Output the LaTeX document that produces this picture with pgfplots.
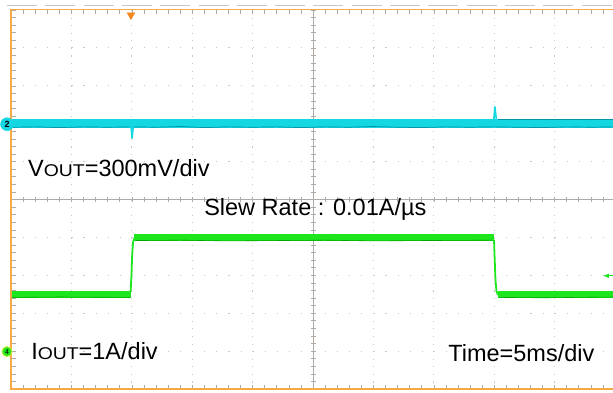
\documentclass[border=0pt]{standalone}
\usepackage{pgfplots}
\pgfplotsset{compat=1.18}
\usepackage{graphicx}
\usepackage{fontspec}
\setmainfont{Liberation Sans}
\definecolor{scopeorange}{RGB}{245,170,70}
\definecolor{trigorange}{RGB}{245,135,30}
\definecolor{tracecyan}{RGB}{20,215,225}
\definecolor{darkcyan}{RGB}{0,150,165}
\definecolor{tracegreen}{RGB}{30,230,30}
\definecolor{darkgreen}{RGB}{0,165,0}
\definecolor{griddot}{RGB}{200,200,200}
\definecolor{gridtick}{RGB}{175,170,165}
\begin{document}
\begin{tikzpicture}[x=1pt,y=1pt]
\path[use as bounding box] (0,0) rectangle (613,392);
\clip (0,0) rectangle (613,392);
% frame dashes above the screen
\foreach \i in {0,...,15} {\draw[griddot, line width=1pt] ({7+38.3*\i},386.5) -- ({37+38.3*\i},386.5);}
% dotted grid
\foreach \k in {1,2,3,4,6,7,8,9} {\draw[griddot, line width=1.1pt, dash pattern=on 1.1pt off 6.48pt] ({11+60.4*\k},382) -- ({11+60.4*\k},3);}
\foreach \j in {1,2,3,4,6,7,8,9} {\draw[griddot, line width=1.1pt, dash pattern=on 1.1pt off 10.98pt] (11,{382-37.9*\j}) -- (613,{382-37.9*\j});}
% centre lines with ticks
\draw[gridtick, line width=0.5pt] (313.2,382) -- (313.2,3);
\draw[gridtick, line width=0.5pt] (11,192.5) -- (613,192.5);
\foreach \i in {0,...,50} {\draw[gridtick, line width=0.6pt] ({11+12.08*\i},190) -- ({11+12.08*\i},195);}
\foreach \i in {0,...,50} {\draw[gridtick, line width=0.6pt] (310.5,{382-7.58*\i}) -- (316,{382-7.58*\i});}
% border ticks
\foreach \i in {0,...,50} {\draw[gridtick, line width=0.6pt] (11,{382-7.58*\i}) -- (15.5,{382-7.58*\i});}
\foreach \i in {0,...,50} {\draw[gridtick, line width=0.6pt] ({11+12.08*\i},382) -- ({11+12.08*\i},378);}
\foreach \i in {0,...,50} {\draw[gridtick, line width=0.6pt] ({11+12.08*\i},3) -- ({11+12.08*\i},7);}
% orange border
\draw[scopeorange, line width=1.6pt] (11,382.5) -- (613,382.5);
\draw[scopeorange, line width=1.8pt] (11,3) -- (613,3);
\draw[scopeorange, line width=2pt] (11,2.2) -- (11,383.3);
\begin{axis}[at={(0,0)}, anchor=south west, scale only axis,
  width=613pt, height=392pt,
  xmin=-0.9106, xmax=49.83, ymin=-5.066, ymax=5.277,
  axis line style={draw=none}, ticks=none, clip=true]
% VOUT trace (div)
\addplot[tracecyan, line width=9pt] coordinates {(0.05,2.02) (49.9,2.02)};
\addplot[darkcyan, line width=0.7pt] coordinates {
(0.1,1.92)(2,1.93)(4,1.91)(6,1.93)(8,1.92)(9.9,1.93)(12,1.92)(14,1.94)(16,1.91)(18,1.93)(20,1.92)
(22,1.93)(24,1.91)(26,1.93)(28,1.92)(30,1.94)(32,1.92)(34,1.91)(36,1.93)(38,1.92)(39.9,1.93)
(42,1.92)(44,1.91)(46,1.93)(48,1.92)(49.9,1.93)};
\addplot[darkcyan, line width=0.7pt] coordinates {(40.3,2.12)(44,2.12)(49.9,2.12)};
\addplot[tracecyan, line width=1.6pt] coordinates {(9.93,2.0)(10.02,1.62)(10.14,2.0)};
\addplot[tracecyan, line width=1.6pt] coordinates {(39.95,2.05)(40.05,2.47)(40.2,2.05)};
% IOUT trace (div)
\addplot[tracegreen, line width=7pt] coordinates {(0.05,-2.5)(9.93,-2.5)};
\addplot[tracegreen, line width=7pt] coordinates {(10.22,-1.0)(39.98,-1.0)};
\addplot[tracegreen, line width=7pt] coordinates {(40.3,-2.5)(49.9,-2.5)};
\addplot[tracegreen, line width=1.8pt] coordinates {(9.9,-2.42)(9.97,-2.0)(10.03,-1.45)(10.1,-1.12)(10.22,-1.0)};
\addplot[tracegreen, line width=1.8pt] coordinates {(39.98,-1.05)(40.03,-1.5)(40.1,-2.1)(40.18,-2.4)(40.3,-2.5)};
\addplot[darkgreen, line width=0.6pt] coordinates {(10.3,-1.07)(14,-1.06)(18,-1.08)(22,-1.07)(26,-1.06)(30,-1.08)(34,-1.07)(39.9,-1.06)};
\addplot[darkgreen, line width=0.6pt] coordinates {(0.1,-2.57)(4,-2.56)(9.9,-2.57)};
\addplot[darkgreen, line width=0.6pt] coordinates {(40.4,-2.57)(44,-2.58)(49.9,-2.56)};
% channel and trigger markers
\addplot[only marks, mark=*, mark size=6.5pt, tracecyan, mark options={draw=tracecyan}] coordinates {(-0.33,2.0)};
\addplot[only marks, black!80, mark=text, text mark={\fontsize{9}{9}\selectfont\bfseries 2}] coordinates {(-0.33,2.0)};
\addplot[only marks, mark=*, mark size=5pt, tracegreen, mark options={draw={rgb,255:red,190;green,240;blue,60}, line width=1pt}] coordinates {(-0.33,-4.0)};
\addplot[only marks, black!80, mark=text, text mark={\fontsize{7}{7}\selectfont 4}] coordinates {(-0.33,-4.0)};
\addplot[only marks, mark=triangle*, mark size=4.5pt, trigorange, mark options={rotate=180}] coordinates {(9.93,4.88)};
\addplot[tracegreen, line width=1pt, -latex] coordinates {(49.83,-2.0)(49.0,-2.0)};
% annotations
\node[anchor=base west, inner sep=0pt, font=\fontsize{23.5}{24}\selectfont] at (axis cs:1.41,0.633) {V\scalebox{1.14}[1]{\fontsize{17}{17}\selectfont OUT}=300mV/div};
\node[anchor=base west, inner sep=0pt, font=\fontsize{23.5}{24}\selectfont] at (axis cs:15.98,-0.396) {Slew Rate : 0.01A/µs};
\node[anchor=base west, inner sep=0pt, font=\fontsize{23.5}{24}\selectfont] at (axis cs:1.66,-4.22) {I\scalebox{1.14}[1]{\fontsize{17}{17}\selectfont OUT}=1A/div};
\node[anchor=base west, inner sep=0pt, font=\fontsize{23.5}{24}\selectfont] at (axis cs:36.18,-4.25) {Time=5ms/div};
\end{axis}
\end{tikzpicture}
\end{document}
